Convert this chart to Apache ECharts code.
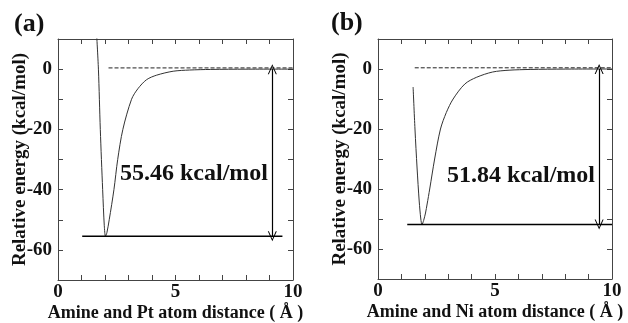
<!DOCTYPE html>
<html>
<head>
<meta charset="utf-8">
<script src="https://cdn.jsdelivr.net/npm/echarts@6/dist/echarts.min.js"></script>
<style>
  html, body { margin: 0; padding: 0; background: #fff; }
  #chart { width: 628px; height: 323px; }
</style>
</head>
<body>
<div id="chart"></div>
<script>
  // panel (a): amine - Pt
  const ptDist = [1.64, 1.72, 1.80, 1.90, 1.97, 2.02, 2.08, 2.18, 2.38, 2.54, 2.76, 3.13, 3.40, 3.77, 4.20, 4.90, 5.60, 6.50, 8.00, 10.0];
  const ptEnergy = [12, 0, -20, -40, -52, -55.46, -54.3, -50, -40, -30, -20, -10, -6.5, -3.5, -2.0, -0.7, -0.3, -0.1, -0.02, 0];
  const ptBinding = -55.46;
  const ptSolidLine = [1.03, 9.55];
  const ptDashLine = [2.15, 10];
  const ptArrowX = 9.12;

  // panel (b): amine - Ni
  const niDist = [1.50, 1.58, 1.67, 1.76, 1.83, 1.88, 1.95, 2.03, 2.10, 2.21, 2.42, 2.67, 2.92, 3.21, 3.71, 4.20, 4.90, 5.60, 6.50, 8.00, 10.0];
  const niEnergy = [-6, -20, -33, -44, -50, -51.84, -50.5, -48, -45, -40, -30, -20, -14.5, -10, -5, -2.8, -1.0, -0.4, -0.15, -0.03, 0];
  const niBinding = -51.84;
  const niSolidLine = [1.25, 10];
  const niDashLine = [1.57, 10];
  const niArrowX = 9.45;

  const xTicks = [0, 5, 10];
  const yTicks = [0, -20, -40, -60];

  const serif = 'Liberation Serif';
  const boxColor = '#444';
  const chevron = 'path://M0,0 L6,12 L4.6,12 L0,2.6 L-4.6,12 L-6,12 Z';

  const chart = echarts.init(document.getElementById('chart'));

  function zip(xs, ys) {
    return xs.map((x, i) => [x, ys[i]]);
  }

  function xAxisFor(gridIndex, position, name) {
    return {
      type: 'value', gridIndex: gridIndex, position: position,
      min: 0, max: 10, interval: 1,
      name: name, nameLocation: 'middle', nameGap: 24, nameMoveOverlap: false,
      nameTextStyle: { fontFamily: serif, fontWeight: 'bold', fontSize: 18, color: '#111' },
      axisLine: { show: true, onZero: false, lineStyle: { color: boxColor, width: 1 } },
      axisTick: { show: true, inside: true, length: 5, lineStyle: { color: boxColor } },
      axisLabel: {
        show: position === 'bottom', margin: 3,
        fontFamily: serif, fontWeight: 'bold', fontSize: 19, color: '#111',
        formatter: v => xTicks.indexOf(v) >= 0 ? String(v) : ''
      },
      splitLine: { show: false }
    };
  }

  function yAxisFor(gridIndex, position, name) {
    return {
      type: 'value', gridIndex: gridIndex, position: position,
      min: -70, max: 10, interval: 10,
      name: name, nameLocation: 'middle', nameGap: 28, nameMoveOverlap: false,
      nameTextStyle: { fontFamily: serif, fontWeight: 'bold', fontSize: 19, color: '#111' },
      axisLine: { show: true, onZero: false, lineStyle: { color: boxColor, width: 1 } },
      axisTick: { show: true, inside: true, length: 5, lineStyle: { color: boxColor } },
      axisLabel: {
        show: position === 'left', margin: 6,
        fontFamily: serif, fontWeight: 'bold', fontSize: 19, color: '#111',
        formatter: v => yTicks.indexOf(v) >= 0 ? String(v) : ''
      },
      splitLine: { show: false }
    };
  }

  function panelSeries(idx, dist, energy, binding, solid, dash, arrowX) {
    return [
      {
        type: 'line', xAxisIndex: idx * 2, yAxisIndex: idx * 2,
        data: zip(dist, energy), smooth: 0.3, showSymbol: false, clip: true,
        lineStyle: { color: '#333', width: 1 }, z: 3
      },
      {
        type: 'line', xAxisIndex: idx * 2, yAxisIndex: idx * 2,
        data: [[solid[0], binding], [solid[1], binding]], showSymbol: false,
        lineStyle: { color: '#000', width: 1.6 }
      },
      {
        type: 'line', xAxisIndex: idx * 2, yAxisIndex: idx * 2,
        data: [[dash[0], 0.4], [dash[1], 0.4]], showSymbol: false,
        lineStyle: { color: '#222', width: 1, type: [4, 2] },
        markLine: {
          silent: true, symbol: [chevron, chevron], symbolSize: [9, 10],
          label: { show: false },
          lineStyle: { color: '#000', width: 1.2, type: 'solid' },
          data: [[{ coord: [arrowX, 0] }, { coord: [arrowX, binding] }]]
        }
      }
    ];
  }

  const option = {
    backgroundColor: '#fff',
    animation: false,
    title: [
      { text: '(a)', left: 9, top: 6, textStyle: { fontFamily: serif, fontWeight: 'bold', fontSize: 26, color: '#111' } },
      { text: '(b)', left: 326, top: 5, textStyle: { fontFamily: serif, fontWeight: 'bold', fontSize: 26, color: '#111' } }
    ],
    grid: [
      { left: 58, top: 39, width: 235, height: 241, outerBoundsMode: 'none', containLabel: false },
      { left: 378, top: 39, width: 234, height: 240, outerBoundsMode: 'none', containLabel: false }
    ],
    xAxis: [
      xAxisFor(0, 'bottom', 'Amine and Pt atom distance ( Å )'),
      xAxisFor(0, 'top', ''),
      xAxisFor(1, 'bottom', 'Amine and Ni atom distance ( Å )'),
      xAxisFor(1, 'top', '')
    ],
    yAxis: [
      yAxisFor(0, 'left', 'Relative energy (kcal/mol)'),
      yAxisFor(0, 'right', ''),
      yAxisFor(1, 'left', 'Relative energy (kcal/mol)'),
      yAxisFor(1, 'right', '')
    ],
    graphic: [
      { type: 'text', left: 120, top: 162, style: { text: '55.46 kcal/mol', font: 'bold 24px "Liberation Serif"', fill: '#111' } },
      { type: 'text', left: 447, top: 164, style: { text: '51.84 kcal/mol', font: 'bold 24px "Liberation Serif"', fill: '#111' } }
    ],
    series: []
      .concat(panelSeries(0, ptDist, ptEnergy, ptBinding, ptSolidLine, ptDashLine, ptArrowX))
      .concat(panelSeries(1, niDist, niEnergy, niBinding, niSolidLine, niDashLine, niArrowX))
  };

  chart.setOption(option);
  window.addEventListener('resize', () => {
    chart.resize();
  });
</script>
</body>
</html>
